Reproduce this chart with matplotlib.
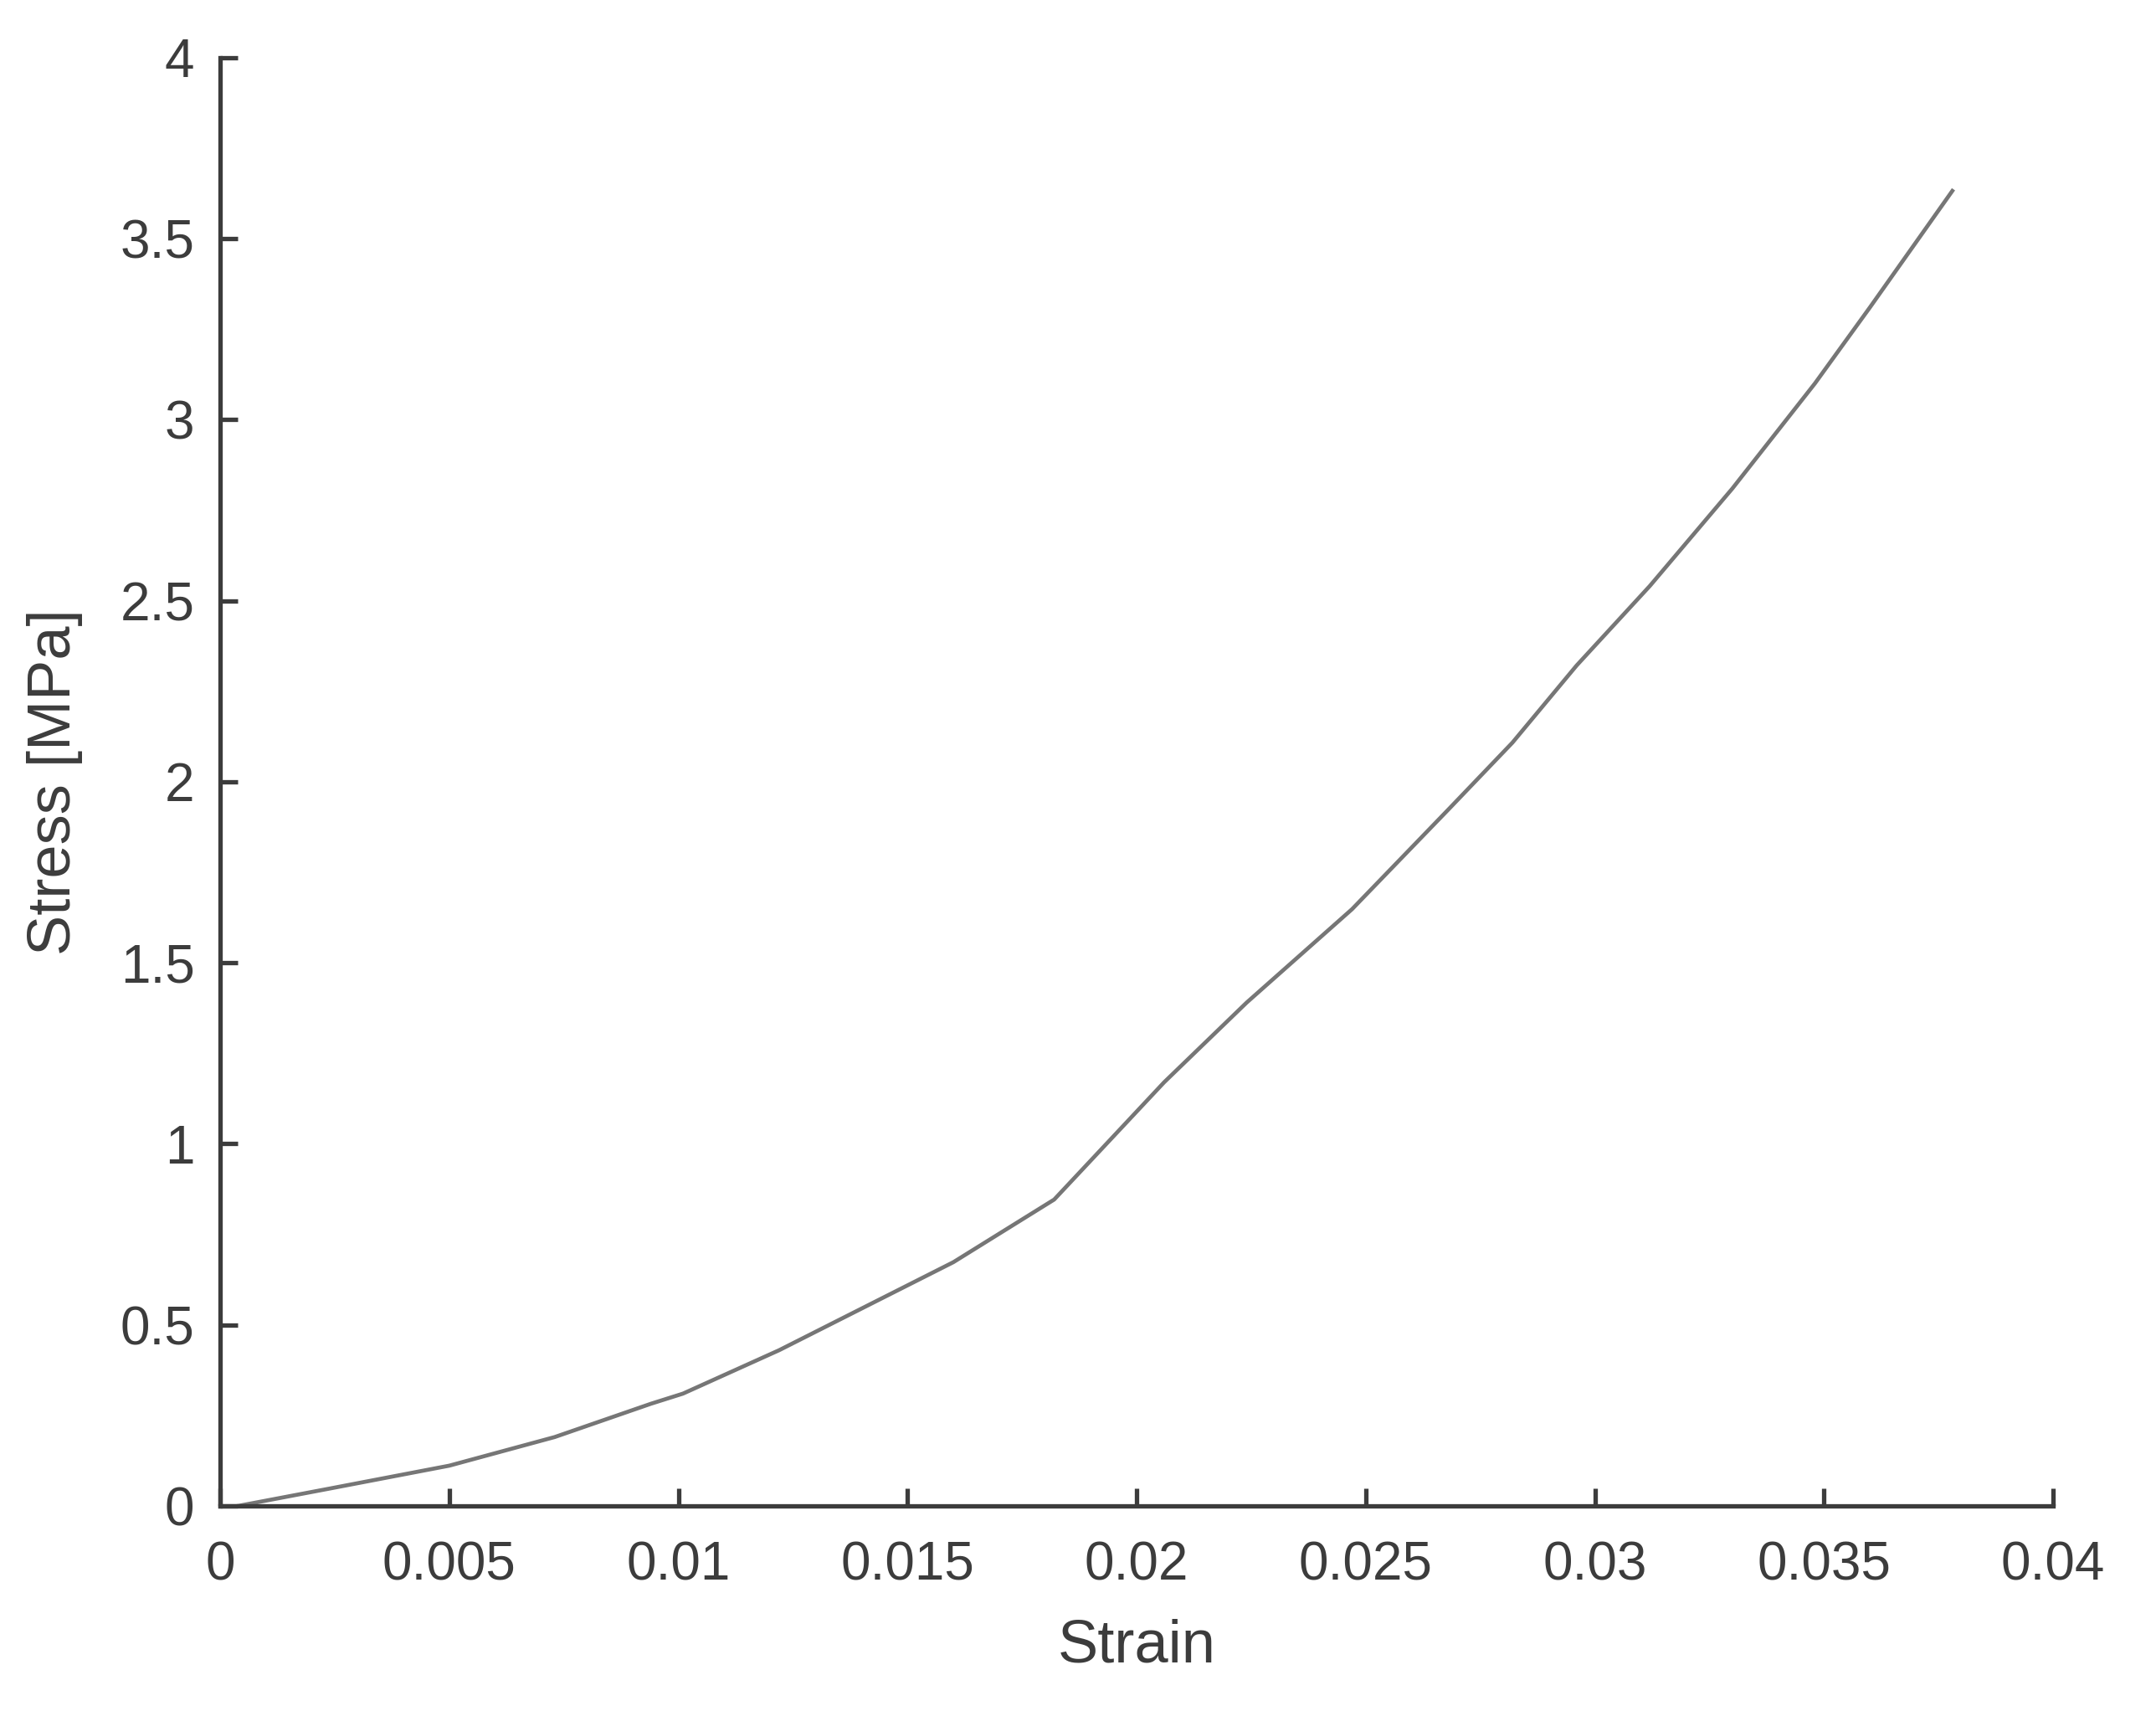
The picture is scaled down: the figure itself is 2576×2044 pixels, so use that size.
import numpy as np
import matplotlib
matplotlib.use('Agg')
import matplotlib.pyplot as plt

# stress-strain values
strain = [0.0004, 0.0024, 0.0050, 0.0073, 0.0094, 0.0101, 0.0122, 0.0160,
          0.0182, 0.0206, 0.0224, 0.0247, 0.0268, 0.0282, 0.0296, 0.0312,
          0.0330, 0.0348, 0.0360, 0.0378]
stress = [0.0, 0.048, 0.111, 0.190, 0.282, 0.310, 0.430, 0.673,
          0.846, 1.170, 1.390, 1.648, 1.923, 2.108, 2.321, 2.541,
          2.810, 3.100, 3.310, 3.632]

x_ticks = [0, 0.005, 0.01, 0.015, 0.02, 0.025, 0.03, 0.035, 0.04]
x_labels = ['0', '0.005', '0.01', '0.015', '0.02', '0.025', '0.03', '0.035', '0.04']
y_ticks = [0, 0.5, 1, 1.5, 2, 2.5, 3, 3.5, 4]
y_labels = ['0', '0.5', '1', '1.5', '2', '2.5', '3', '3.5', '4']

plt.rcParams['font.family'] = ['Liberation Sans', 'DejaVu Sans']

axis_col = '#3c3c3c'

fig = plt.figure(figsize=(12.88, 10.22), dpi=200)
ax = fig.add_axes([0.1021, 0.1199, 0.8502, 0.8464])

ax.plot(strain, stress, color='#767676', linewidth=1.7)

ax.set_xlim(0, 0.04)
ax.set_ylim(0, 4)
ax.set_xticks(x_ticks)
ax.set_xticklabels(x_labels)
ax.set_yticks(y_ticks)
ax.set_yticklabels(y_labels)

for side in ['top', 'right']:
    ax.spines[side].set_visible(False)
for side in ['left', 'bottom']:
    ax.spines[side].set_color(axis_col)
    ax.spines[side].set_linewidth(1.9)

ax.tick_params(axis='both', direction='in', length=7.6, width=1.9,
               color=axis_col, labelcolor=axis_col, labelsize=23)
ax.tick_params(axis='x', pad=15)
ax.tick_params(axis='y', pad=11)

ax.set_xlabel('Strain', fontsize=26, color=axis_col, labelpad=12)
ax.set_ylabel('Stress [MPa]', fontsize=26, color=axis_col, labelpad=16)

fig.savefig('out.png', dpi=200, facecolor='white')
